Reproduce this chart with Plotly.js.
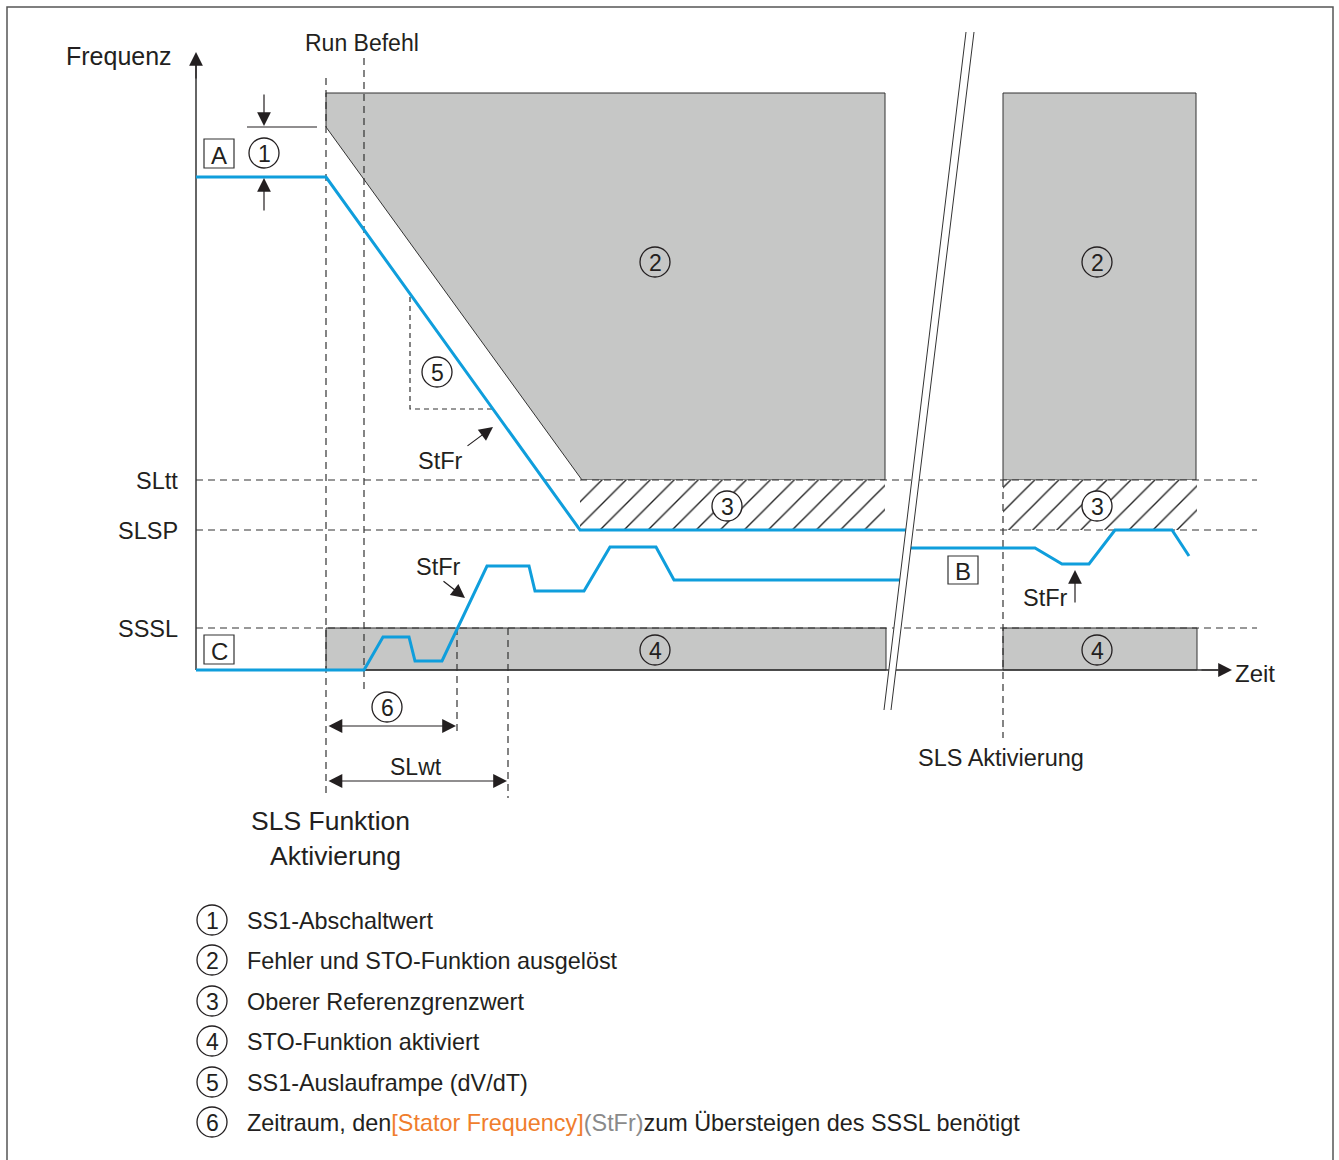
<!DOCTYPE html>
<html>
<head>
<meta charset="utf-8">
<script src="https://cdn.plot.ly/plotly-3.0.1.min.js"></script>
<style>html,body{margin:0;padding:0;background:#fff;}#chart{width:1339px;height:1160px;}</style>
</head>
<body>
<div id="chart"></div>
<script>
// ---------- data (time / frequency in diagram units) ----------
const levelLabels = ['SLtt', 'SLSP', 'SSSL'];
const levelFreq = [190, 140, 42];

// StFr during SS1 ramp (case A)
const rampTime = [0, 130, 384, 710];
const rampFreq = [493, 493, 140, 140];
// StFr after start command (case C)
const startTime = [0, 168, 187, 213, 219, 246, 291, 333, 339, 388, 414, 460, 478, 704];
const startFreq = [0, 0, 33, 33, 9, 9, 104, 104, 79, 79, 123, 123, 90, 90];
// StFr later (case B)
const laterTime = [715, 839, 866, 893, 919, 976, 993];
const laterFreq = [122, 122, 106, 106, 140, 140, 114];

// event times
const eventNames = ['SLS Funktion Aktivierung', 'Run Befehl', 'SSSL erreicht', 'SLwt Ende', 'SLS Aktivierung'];
const eventTime = [130, 168, 261, 312, 807];

// zone limits
const tripTop = 577;        // top of fault zone
const ss1Offset = 543;      // SS1 threshold at ramp start
const rampZoneEnd = 386;    // time where ramp limit reaches SLtt
const zoneEndLeft = 689;    // zones end before axis break
const zoneEndRight = 1001;  // right zones end

const legendNums = ['1', '2', '3', '4', '5', '6'];
const legendTexts = [
  'SS1-Abschaltwert',
  'Fehler und STO-Funktion ausgelöst',
  'Oberer Referenzgrenzwert',
  'STO-Funktion aktiviert',
  'SS1-Auslauframpe (dV/dT)',
  'Zeitraum, den<span style="color:#f07d2c">[Stator Frequency]</span><span style="color:#8a8a8a">(StFr)</span>zum Übersteigen des SSSL benötigt'
];

// ---------- helpers: pixel -> diagram units ----------
const X = px => px - 196;
const Y = py => 670 - py;
const INK = '#231f20';
const DASHC = '#333333';
const GRAY = '#c6c7c6';
const BLUE = '#0f9edc';
const FONT = 'Liberation Sans, Arial, sans-serif';

const traces = [];
function poly(xs, ys, fill, lineColor, lw, pattern) {
  const t = {type: 'scatter', mode: 'lines', x: xs.concat([xs[0]]), y: ys.concat([ys[0]]),
    fill: 'toself', fillcolor: fill, line: {color: lineColor, width: lw},
    hoverinfo: 'skip', showlegend: false};
  if (pattern) t.fillpattern = pattern;
  traces.push(t);
}
function seg(xs, ys, color, width, dash) {
  traces.push({type: 'scatter', mode: 'lines', x: xs, y: ys,
    line: {color: color, width: width, dash: dash || 'solid'},
    hoverinfo: 'skip', showlegend: false});
}

// zone 2 (fault + STO)
poly([eventTime[0], zoneEndLeft, zoneEndLeft, rampZoneEnd, eventTime[0]],
     [tripTop, tripTop, levelFreq[0], levelFreq[0], ss1Offset], GRAY, '#333', 1);
poly([eventTime[4], zoneEndRight - 1, zoneEndRight - 1, eventTime[4]],
     [tripTop, tripTop, levelFreq[0], levelFreq[0]], GRAY, '#333', 1);
// zone 3 (hatched)
const hatch = {shape: '/', bgcolor: 'white', fgcolor: '#222', size: 17, solidity: 0.08};
poly([X(580), zoneEndLeft, zoneEndLeft, X(580)], [levelFreq[0], levelFreq[0], levelFreq[1], levelFreq[1]],
     'white', 'rgba(0,0,0,0)', 0, hatch);
poly([eventTime[4], zoneEndRight, zoneEndRight, eventTime[4]], [levelFreq[0], levelFreq[0], levelFreq[1], levelFreq[1]],
     'white', 'rgba(0,0,0,0)', 0, hatch);
// zone 4 (STO active)
poly([eventTime[0], zoneEndLeft + 1, zoneEndLeft + 1, eventTime[0]], [levelFreq[2], levelFreq[2], 0, 0], GRAY, '#333', 1);
poly([eventTime[4], zoneEndRight, zoneEndRight, eventTime[4]], [levelFreq[2], levelFreq[2], 0, 0], GRAY, '#333', 1);

// dashed level lines
levelFreq.forEach(f => seg([0, X(1257)], [f, f], DASHC, 1.2, '7px,5px'));
// dashed event lines
seg([eventTime[0], eventTime[0]], [Y(78), Y(798)], DASHC, 1.2, '7px,5px');
seg([eventTime[1], eventTime[1]], [Y(58), Y(690)], DASHC, 1.2, '7px,5px');
seg([eventTime[2], eventTime[2]], [levelFreq[2], Y(736)], DASHC, 1.2, '7px,5px');
seg([eventTime[3], eventTime[3]], [levelFreq[2], Y(798)], DASHC, 1.2, '7px,5px');
seg([eventTime[4], eventTime[4]], [levelFreq[0], Y(738)], DASHC, 1.2, '7px,5px');
// ramp "5" guide
seg([X(410), X(410), X(492)], [Y(297), Y(409), Y(409)], DASHC, 1.2, '5px,4px');

// axes
seg([0, 0], [0, Y(64)], '#333', 1.5);
seg([0, X(1218)], [0, 0], '#333', 1.5);

// StFr lines
seg(rampTime, rampFreq, BLUE, 3);
seg(startTime, startFreq, BLUE, 3);
seg(laterTime, laterFreq, BLUE, 3);

// axis break
poly([X(884), X(966), X(974), X(891)], [Y(710), Y(32), Y(32), Y(710)], 'white', 'rgba(0,0,0,0)', 0);
seg([X(884), X(966)], [Y(710), Y(32)], '#333', 1);
seg([X(891), X(974)], [Y(710), Y(32)], '#333', 1);

// ---------- shapes ----------
const shapes = [];
shapes.push({type: 'rect', x0: X(7), y0: Y(7), x1: X(1333), y1: Y(1175), line: {color: '#555', width: 1.5}});
function box(x0, y0, x1, y1) {
  shapes.push({type: 'rect', x0: X(x0), y0: Y(y0), x1: X(x1), y1: Y(y1), fillcolor: 'white', line: {color: '#333', width: 1.2}});
}
box(204, 139, 234, 168);
box(204, 635, 234, 664);
box(948, 556, 978, 584);
function circ(cx, cy, fill) {
  const r = 15;
  shapes.push({type: 'circle', x0: X(cx - r), x1: X(cx + r), y0: Y(cy - r), y1: Y(cy + r),
    fillcolor: fill || 'rgba(0,0,0,0)', line: {color: INK, width: 1.3}});
}
// dimension line for "1"
shapes.push({type: 'line', x0: X(247), x1: X(317), y0: Y(127), y1: Y(127), line: {color: INK, width: 1.2}});

// ---------- annotations ----------
const ann = [];
function txt(text, px, py, size, xanchor, color) {
  ann.push({text: text, x: X(px), y: Y(py), xref: 'x', yref: 'y', showarrow: false,
    xanchor: xanchor || 'center', yanchor: 'middle', borderpad: 0,
    font: {family: FONT, size: size, color: color || INK}});
}
function arrow(tx, ty, hx, hy, both) {
  const a = {text: '', x: X(hx), y: Y(hy), ax: X(tx), ay: Y(ty), axref: 'x', ayref: 'y', xref: 'x', yref: 'y',
    showarrow: true, arrowhead: 2, arrowsize: 2.3, arrowwidth: 1.2, arrowcolor: INK, standoff: 0, startstandoff: 0};
  if (both) { a.arrowside = 'end+start'; a.startarrowhead = 2; a.startarrowsize = 2.3; }
  ann.push(a);
}
function numCircle(n, cx, cy, fill) { circ(cx, cy, fill); txt(n, cx, cy + 1, 23); }

txt('Frequenz', 173, 56, 25, 'right');
txt('Run Befehl', 362, 43, 23);
levelLabels.forEach((l, i) => txt(l, 179, 670 - levelFreq[i] + 1, 23.5, 'right'));
txt('A', 219, 155, 24);
txt('C', 219, 651, 24);
txt('B', 963, 571, 24);
txt('Zeit', 1234, 673, 24, 'left');
txt('StFr', 440, 461, 23.5);
txt('StFr', 438, 567, 23.5);
txt('StFr', 1045, 598, 23.5);
txt('SLwt', 416, 767, 23);
txt('SLS Funktion', 330, 821, 26.5);
txt('Aktivierung', 335, 856, 26.5);
txt('SLS Aktivierung', 1001, 758, 23.5);

numCircle('1', 264, 153);
numCircle('2', 655, 262);
numCircle('2', 1097, 262);
numCircle('3', 727, 506, 'white');
numCircle('3', 1097, 506, 'white');
numCircle('4', 655, 650);
numCircle('4', 1097, 650);
numCircle('5', 437, 372);
numCircle('6', 387, 707);

// arrows
arrow(196, 80, 196, 52);                  // y axis head
arrow(1200, 670, 1232, 670);              // x axis head
arrow(264, 93, 264, 126);                 // "1" down
arrow(264, 212, 264, 178);                // "1" up
arrow(466, 447, 493, 427);                // StFr ramp
arrow(442, 580, 465, 598);                // StFr start
arrow(1075, 604, 1075, 570);              // StFr later
arrow(327, 726, 456, 726, true);          // "6"
arrow(327, 781, 507, 781, true);          // SLwt

legendNums.forEach((n, i) => {
  const py = [920, 960, 1001, 1041, 1082, 1122][i];
  numCircle(n, 212, py);
  txt(legendTexts[i], 246, py + 1, 23.4, 'left');
});

const layout = {
  width: 1339, height: 1160,
  margin: {l: 0, r: 0, t: 0, b: 0},
  paper_bgcolor: 'white', plot_bgcolor: 'white',
  xaxis: {range: [-196, 1143], visible: false, fixedrange: true},
  yaxis: {range: [-490, 670], visible: false, fixedrange: true},
  showlegend: false, hovermode: false,
  shapes: shapes, annotations: ann
};
Plotly.newPlot('chart', traces, layout, {staticPlot: true});
</script>
</body>
</html>
